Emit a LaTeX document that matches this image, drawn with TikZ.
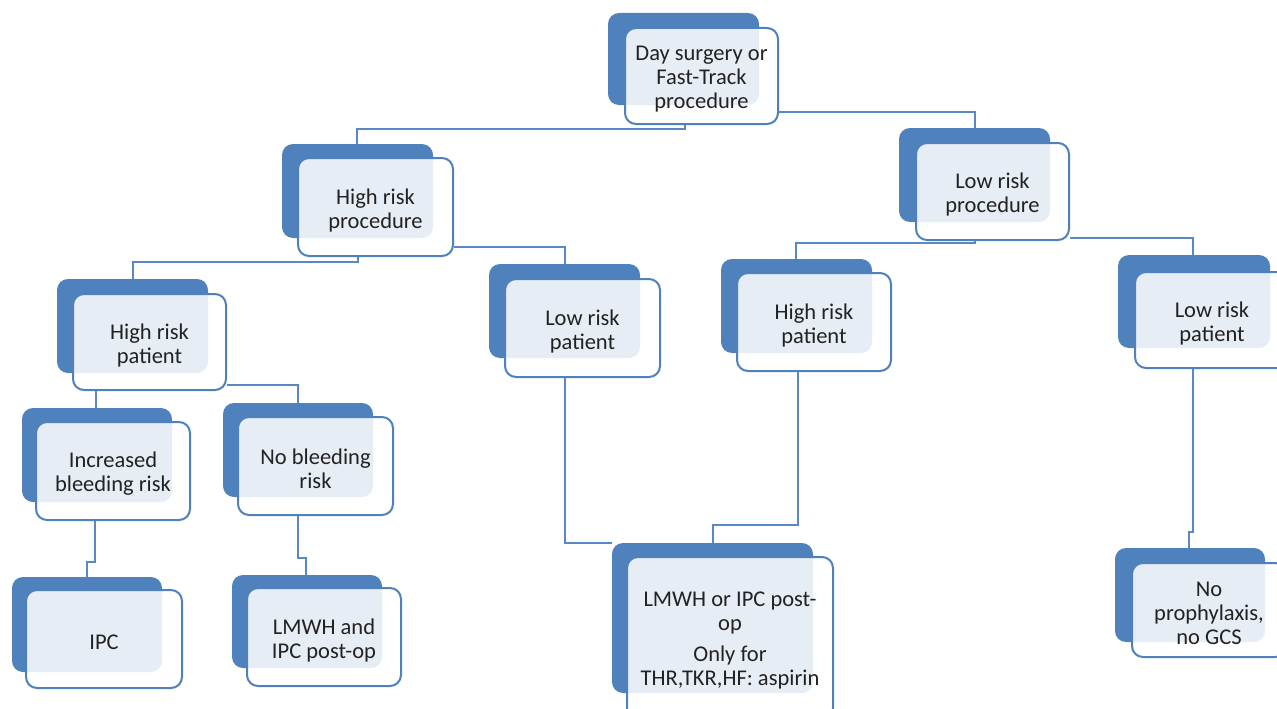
\documentclass[tikz,border=0pt]{standalone}
\usepackage{fontspec}
\setmainfont{Carlito}
\usetikzlibrary{fit}
\pgfdeclarelayer{background}
\pgfsetlayers{background,main}
\definecolor{accent}{HTML}{4F81BD}
\definecolor{connc}{HTML}{5A88C6}
\definecolor{txt}{HTML}{222222}
\tikzset{
  backbox/.style={fill=accent, draw=none, rounded corners=11pt, inner sep=0pt},
  frontbox/.style={fill=white, fill opacity=0.86, draw=accent, draw opacity=1, line width=2pt,
    rounded corners=11pt, inner sep=0pt},
  boxtext/.style={text=txt, align=center, inner sep=0pt, yshift=-3pt,
    font=\fontsize{22.5pt}{24pt}\selectfont},
  conn/.style={draw=connc, line width=1.9pt},
}
\newcommand\dnode[4]{%
  \node[backbox, fit={#2}] (#1b) {};
  \node[frontbox, fit={#3}] (#1f) {};
  \node[boxtext] (#1t) at (#1f.center) {#4};
}
\begin{document}
\begin{tikzpicture}[x=1pt,y=-1pt]
\useasboundingbox (0,0) rectangle (1277,709);
\begin{pgfonlayer}{background}
  \fill[white] (0,0) rectangle (1277,709);
\end{pgfonlayer}

\dnode{n1}{(608,13)(759,105)}{(625,28)(778,124)}{Day surgery or\\Fast-Track\\procedure}
\dnode{n2}{(282,144)(433,238)}{(298,158)(453,256)}{High risk\\procedure}
\dnode{n3}{(899,128)(1050,222)}{(916,143)(1069,240)}{Low risk\\procedure}
\dnode{n4}{(57,279)(208,373)}{(73,294)(226,390)}{High risk\\patient}
\dnode{n5}{(489,264)(640,358)}{(505,279)(660,377)}{Low risk\\patient}
\dnode{n6}{(721,259)(872,353)}{(737,273)(891,371)}{High risk\\patient}
\dnode{n7}{(1118,255)(1270,348)}{(1135,272)(1289,368)}{Low risk\\patient}
\dnode{n8}{(22,408)(172,502)}{(36,422)(190,520)}{Increased\\bleeding risk}
\dnode{n9}{(223,403)(373,497)}{(238,417)(393,515)}{No bleeding\\risk}
\dnode{n10}{(12,577)(162,672)}{(26,590)(182,688)}{IPC}
\dnode{n11}{(232,575)(382,668)}{(247,588)(401,686)}{LMWH and\\IPC post-op}
\dnode{n12}{(612,543)(813,693)}{(627,557)(833,719)}{LMWH or IPC post-\\op\\[7pt]Only for\\THR,TKR,HF: aspirin}
\dnode{n13}{(1115,548)(1265,642)}{(1132,563)(1286,657)}{No\\prophylaxis,\\no GCS}

% bend coordinates
\coordinate (a1) at (685,129);  \coordinate (a2) at (357,129);
\coordinate (b1) at (975,112);
\coordinate (c1) at (358,262);  \coordinate (c2) at (133,262);
\coordinate (d1) at (565,247);
\coordinate (e1) at (975,243);  \coordinate (e2) at (796,243);
\coordinate (f1) at (1193,238);
\coordinate (g1) at (96,400);
\coordinate (h1) at (298,385);
\coordinate (i1) at (95,562);   \coordinate (i2) at (87,562);
\coordinate (j1) at (298,558);  \coordinate (j2) at (306,558);
\coordinate (k1) at (565,543);
\coordinate (l1) at (798,525);  \coordinate (l2) at (713,525);
\coordinate (m1) at (1193,532); \coordinate (m2) at (1189,532);

\begin{pgfonlayer}{background}
  \draw[conn] (n1f.south -| a1) -- (a1) -- (a2) -- (n2b.north -| a2);
  \draw[conn] (n1f.east |- b1) -- (b1) -- (n3b.north -| b1);
  \draw[conn] (n2f.south -| c1) -- (c1) -- (c2) -- (n4b.north -| c2);
  \draw[conn] (n2f.east |- d1) -- (d1) -- (n5b.north -| d1);
  \draw[conn] (n3f.south -| e1) -- (e1) -- (e2) -- (n6b.north -| e2);
  \draw[conn] (n3f.east |- f1) -- (f1) -- (n7b.north -| f1);
  \draw[conn] (n4f.south -| g1) -- (n8b.north -| g1);
  \draw[conn] (n4f.east |- h1) -- (h1) -- (n9b.north -| h1);
  \draw[conn] (n8f.south -| i1) -- (i1) -- (i2) -- (n10b.north -| i2);
  \draw[conn] (n9f.south -| j1) -- (j1) -- (j2) -- (n11b.north -| j2);
  \draw[conn] (n5f.south -| k1) -- (k1) -- (n12b.west |- k1);
  \draw[conn] (n6f.south -| l1) -- (l1) -- (l2) -- (n12b.north -| l2);
  \draw[conn] (n7f.south -| m1) -- (m1) -- (m2) -- (n13b.north -| m2);
\end{pgfonlayer}
\end{tikzpicture}
\end{document}
